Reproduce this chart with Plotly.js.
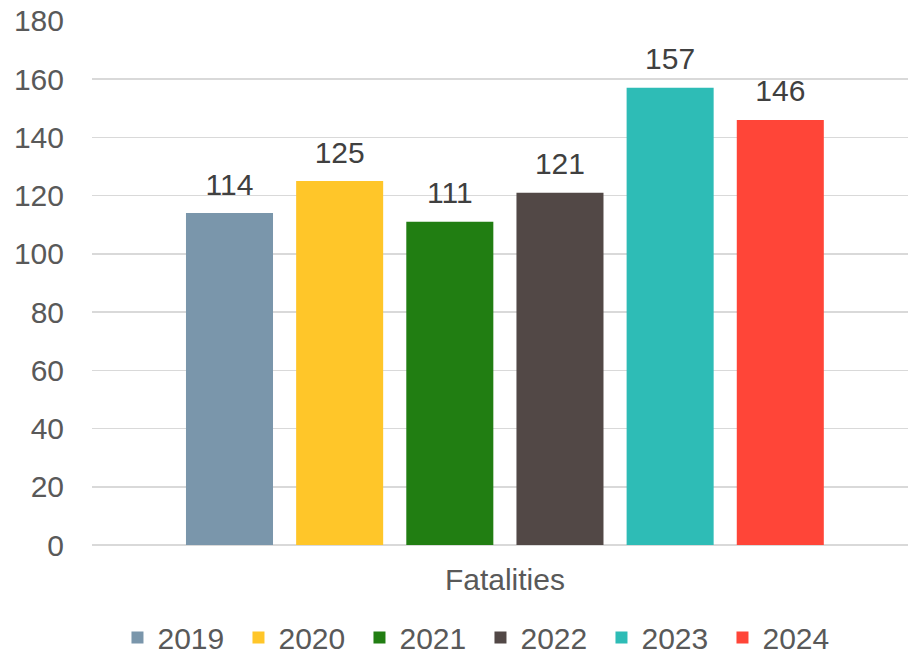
<!DOCTYPE html>
<html><head><meta charset="utf-8">
<script src="https://cdn.plot.ly/plotly-3.0.1.min.js"></script>
<style>html,body{margin:0;padding:0;background:#fff}#chart{width:910px;height:654px}</style>
</head><body><div id="chart"></div>
<script>
const categories = ["Fatalities"];
const seriesNames = ["2019", "2020", "2021", "2022", "2023", "2024"];
const seriesValues = [[114], [125], [111], [121], [157], [146]];
const seriesColors = ["#7A96AB", "#FFC629", "#217E12", "#524846", "#2EBCB6", "#FF4538"];
const yTicks = [0, 20, 40, 60, 80, 100, 120, 140, 160, 180];

const barTraces = seriesNames.map((name, i) => ({
  type: "bar",
  name: name,
  x: categories,
  y: seriesValues[i],
  offsetgroup: name,
  marker: {color: seriesColors[i], line: {width: 0}},
  hoverinfo: "none"
}));

const labelTraces = seriesNames.map((name, i) => ({
  type: "scatter",
  mode: "markers+text",
  x: categories,
  y: seriesValues[i],
  offsetgroup: name,
  text: seriesValues[i].map(String),
  textposition: "top center",
  cliponaxis: false,
  showlegend: false,
  textfont: {family: "Liberation Sans, Arial, sans-serif", size: 30, color: "#404040"},
  marker: {size: 16, color: "rgba(0,0,0,0)"},
  hoverinfo: "none"
}));

const layout = {
  width: 910, height: 654,
  margin: {l: 92, r: 2, t: 20, b: 109, autoexpand: false},
  paper_bgcolor: "#fff", plot_bgcolor: "#fff",
  font: {family: "Liberation Sans, Arial, sans-serif", size: 30, color: "#595959"},
  barmode: "group",
  bargap: 0.19,
  bargroupgap: 0.21,
  scattermode: "group",
  scattergap: 0.19,
  showlegend: true,
  legend: {orientation: "h", x: 0.528, xanchor: "center", xref: "container",
           y: 0.065, yanchor: "top", yref: "container",
           entrywidth: 76, entrywidthmode: "pixels",
           font: {size: 30, color: "#595959"}, itemwidth: 30, traceorder: "normal"},
  xaxis: {type: "category", range: [-0.506, 0.494], showgrid: false, zeroline: false, showline: false, ticks: "",
          ticklabelstandoff: 14,
          tickfont: {size: 30, color: "#595959"}, fixedrange: true},
  yaxis: {range: [0, 180.3], tickvals: yTicks, ticktext: yTicks.map(String),
          showgrid: true, gridcolor: "#D9D9D9", gridwidth: 1.5,
          zeroline: true, zerolinecolor: "#D9D9D9", zerolinewidth: 1.5,
          showline: false, ticks: "", ticklabelstandoff: 27,
          tickfont: {size: 30, color: "#595959"}, fixedrange: true}
};

Plotly.newPlot("chart", barTraces.concat(labelTraces), layout, {displayModeBar: false, staticPlot: true});
</script></body></html>
